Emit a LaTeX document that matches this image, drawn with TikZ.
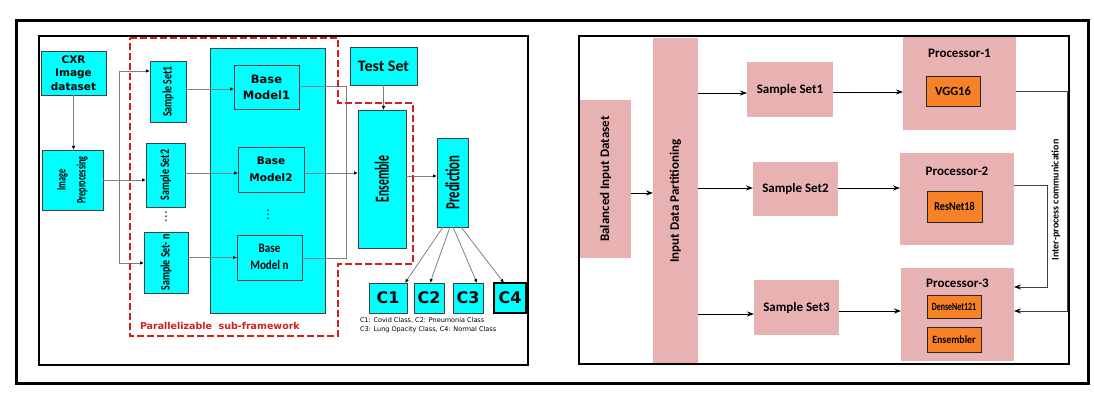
\documentclass[tikz,border=0pt]{standalone}
\usepackage{fontspec}
\usepackage{graphicx}
\usetikzlibrary{arrows.meta}
\newfontfamily\carl{Carlito}
\newfontfamily\dvs{DejaVu Sans}
\newcommand\cb[2]{\carl\bfseries\fontsize{#1}{#2}\selectfont}
\newcommand\rt[1]{\rotatebox{90}{#1}}
\newcommand\sx[2]{\scalebox{#1}[1]{#2}}
\definecolor{cy}{RGB}{0,255,255}
\definecolor{bd}{RGB}{64,64,64}
\definecolor{gl}{RGB}{128,128,128}
\definecolor{rd}{RGB}{208,32,32}
\definecolor{pk}{RGB}{232,178,178}
\definecolor{og}{RGB}{247,130,40}
\tikzset{
 cbox/.style={fill=cy, draw=bd, line width=0.9pt, inner sep=0pt, outer sep=0pt, align=center},
 pbox/.style={fill=pk, inner sep=0pt, outer sep=0pt, align=center},
 obox/.style={fill=og, draw=black!85, line width=0.9pt, inner sep=0pt, outer sep=0pt, align=center},
 gar/.style={draw=gl, line width=0.8pt, -{Latex[black,length=4pt,width=3.5pt]}},
 gln/.style={draw=gl, line width=0.8pt},
 bar/.style={draw=black, line width=0.9pt, -{Stealth[length=7pt,width=5pt]}},
 car/.style={draw=black!75, line width=0.8pt, -{Stealth[length=7pt,width=5pt,black]}},
 tx/.style={inner sep=0pt, outer sep=0pt, align=center},
 vd/.style={inner sep=0pt, outer sep=0pt, font=\dvs\fontsize{12}{12}\selectfont},
}
\newcommand\bx[7]{\node[#6, minimum width={(#4)-(#2)}, minimum height={(#5)-(#3)}] (#1) at ({((#2)+(#4))/2},{((#3)+(#5))/2}) {#7};}
\begin{document}
\begin{tikzpicture}[x=1pt,y=-1pt]
\useasboundingbox (0,0) rectangle (1094,406);
\fill[white] (0,0) rectangle (1094,406);
% ---------- left panel ----------
\bx{cxr}{41}{51}{106}{95}{cbox,font=\dvs\bfseries\fontsize{10.5}{13.5}\selectfont}{CXR\\Image\\dataset}
\bx{prep}{42}{150}{103}{210}{cbox}{\rt{\sx{0.63}{\cb{13}{16}\begin{tabular}{@{}c@{}}Image\\[4pt]Preprocessing\end{tabular}}}}
\bx{ss1}{150}{61}{186}{122}{cbox}{\rt{\sx{0.76}{\cb{13}{15}Sample Set1}}}
\bx{ss2}{146}{143}{185}{207}{cbox}{\rt{\sx{0.76}{\cb{13}{15}Sample Set2}}}
\bx{ssn}{144}{232}{188}{293}{cbox}{\rt{\sx{0.76}{\cb{13}{15}Sample Set- n}}}
\node[vd] (d1) at (166,217) {⋮};
\bx{cont}{210}{48}{325}{313}{cbox}{}
\bx{bm1}{234}{65}{299}{109}{cbox,font=\dvs\bfseries\fontsize{11.5}{16}\selectfont}{Base\\Model1}
\bx{bm2}{238}{147}{304}{192}{cbox,font=\dvs\bfseries\fontsize{10.5}{17}\selectfont}{Base\\Model2}
\node[vd] (d2) at (268,215) {⋮};
\bx{bmn}{237}{235}{302}{280}{cbox}{\sx{0.85}{\cb{13}{17}\begin{tabular}{@{}c@{}}Base\\Model n\end{tabular}}}
\bx{test}{350}{47}{417}{85}{cbox}{\cb{16}{18}Test Set}
\bx{ens}{358}{110}{406}{248}{cbox}{\rt{\sx{0.58}{\cb{20}{22}Ensemble}}}
\bx{pred}{437}{138}{468}{227}{cbox}{\rt{\sx{0.64}{\cb{20}{22}Prediction}}}
\bx{c1}{369}{283}{407}{313}{cbox}{\dvs\bfseries\fontsize{16}{18}\selectfont C1}
\bx{c2}{414}{283}{444}{313}{cbox}{\dvs\bfseries\fontsize{16}{18}\selectfont C2}
\bx{c3}{453}{283}{483}{313}{cbox}{\dvs\bfseries\fontsize{16}{18}\selectfont C3}
\bx{c4}{494}{283}{526}{313}{cbox,draw=black,line width=1.2pt}{\dvs\bfseries\fontsize{16}{18}\selectfont C4}
\node[tx, anchor=west, align=left, font=\dvs\fontsize{6.5}{9}\selectfont] (leg) at (360,325.5) {C1: Covid Class, C2: Pneumonia Class\\C3: Lung Opacity Class, C4: Normal Class};
\node[tx, anchor=west, text=rd] (par) at (140,326) {\dvs\bfseries\fontsize{9.5}{11}\selectfont Parallelizable\ \ sub-framework};
% connectors left
\draw[gar] (cxr.south) -- (cxr.south |- prep.north);
\coordinate (spt) at (119,71);
\coordinate (spb) at (119,263);
\draw[gln] (spt) -- (spb);
\draw[gar] (spt) -- (spt -| ss1.west);
\draw[gar] (prep.east) -- (prep.east -| ss2.west);
\draw[gar] (spb) -- (spb -| ssn.west);
\draw[gar] (ss1.east |- 0,89) -- (bm1.west |- 0,89);
\draw[gar] (ss2.east |- 0,173) -- (bm2.west |- 0,173);
\draw[gar] (bmn.west -| ssn.east) -- (bmn.west);
\coordinate (jt) at (346,86);
\coordinate (jb) at (346,258);
\draw[gln] (bm1.east |- jt) -- (jt) -- (jb) -- (bmn.east |- jb);
\draw[gar] (bm2.east |- 0,173) -- (ens.west |- 0,173);
\draw[gar] (test.south) -- (test.south |- ens.north);
\draw[gar] (ens.east |- 0,176) -- (pred.west |- 0,176);
\draw[gar] ([xshift=-9.5pt]pred.south) -- ([xshift=-2pt]c1.north east);
\draw[gar] ([xshift=-2.5pt]pred.south) -- ([xshift=1pt]c2.north);
\draw[gar] ([xshift=0.5pt]pred.south) -- ([xshift=-6pt]c3.north east);
\draw[gar] ([xshift=8.5pt]pred.south) -- ([xshift=10pt]c4.north west);
\draw[rd, line width=1.3pt, dash pattern=on 7pt off 3pt] (130,38) -- (338,38) -- (338,103) -- (413,103) -- (413,264) -- (338,264) -- (338,336) -- (130,336) -- cycle;
% ---------- right panel ----------
\bx{bal}{580}{100}{631}{258}{pbox}{\rt{\cb{13}{15}Balanced Input Dataset}}
\bx{idp}{653}{38}{698}{364}{pbox}{\rt{\cb{13}{15}Input Data Partitioning}}
\bx{rs1}{747}{62}{833}{117}{pbox}{\cb{13}{15}Sample Set1}
\bx{rs2}{753}{162}{838}{216}{pbox}{\cb{13}{15}Sample Set2}
\bx{rs3}{754}{280}{839}{335}{pbox}{\cb{13}{15}Sample Set3}
\bx{p1}{903}{37}{1016}{130}{pbox}{}
\node[tx] (p1t) at (959.5,53) {\cb{13}{15}Processor-1};
\bx{vgg}{926}{76}{980}{106}{obox}{\cb{12.5}{14}VGG16}
\bx{p2}{900}{153}{1014}{245}{pbox}{}
\node[tx] (p2t) at (957,171) {\cb{13}{15}Processor-2};
\bx{res}{927}{191}{982}{222}{obox}{\sx{0.85}{\cb{12}{14}ResNet18}}
\bx{p3}{901}{268}{1014}{361}{pbox}{}
\node[tx] (p3t) at (957.5,283) {\cb{13}{15}Processor-3};
\bx{dn}{927}{295}{981}{318}{obox}{\sx{0.72}{\cb{11}{13}DenseNet121}}
\bx{ensr}{927}{327}{981}{352}{obox}{\sx{0.9}{\cb{11}{13}Ensembler}}
\node[tx] (ipc) at (1056,200) {\rt{\cb{10}{12}Inter-process communication}};
% connectors right
\draw[bar] (bal.east |- 0,193) -- (idp.west |- 0,193);
\draw[bar] (idp.east |- 0,93) -- (rs1.west |- 0,93);
\draw[bar] (idp.east |- 0,188) -- (rs2.west |- 0,188);
\draw[bar] (idp.east |- 0,314) -- (rs3.west |- 0,314);
\draw[bar] (rs1.east |- 0,92) -- (p1.west |- 0,92);
\draw[bar] (rs2.east |- 0,188) -- (p2.west |- 0,188);
\draw[bar] (rs3.east |- 0,311) -- (p3.west |- 0,311);
\coordinate (ca) at (1067,91);
\coordinate (cb) at (1067,311);
\coordinate (cc) at (1047,185);
\coordinate (cd) at (1047,287);
\draw[car] (p1.east |- ca) -- (ca) -- (cb) -- (p3.east |- cb);
\draw[car] (p2.east |- cc) -- (cc) -- (cd) -- (p3.east |- cd);
% ---------- frames ----------
\draw[line width=3pt] (16,21) rectangle (1088,383);
\draw[line width=2pt] (39,36) rectangle (528,365);
\draw[line width=2pt] (579,36) rectangle (1069,364);
\end{tikzpicture}
\end{document}
